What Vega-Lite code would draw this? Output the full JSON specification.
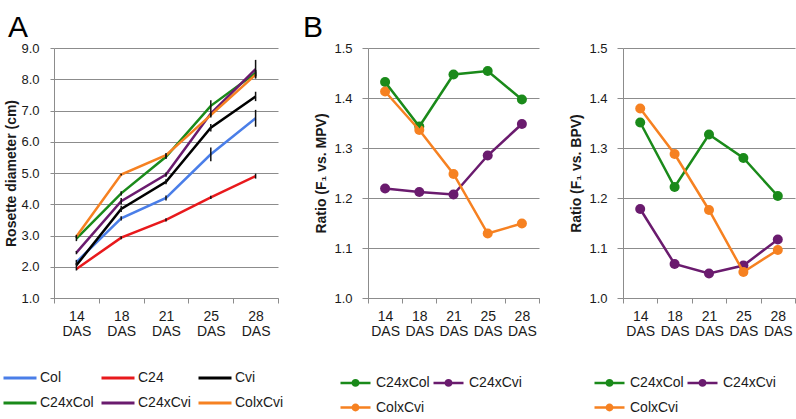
{
  "$schema": "https://vega.github.io/schema/vega-lite/v6.json",
  "padding": {"left": 2, "top": 13, "right": 0, "bottom": 0},
  "spacing": 18,
  "background": "white",
  "config": {
    "font": "Liberation Sans",
    "view": {"stroke": null},
    "axisX": {
      "title": null, "tickBand": "extent", "labelAngle": 0, "grid": false,
      "domainColor": "#8c8c8c", "tickColor": "#8c8c8c", "tickSize": 5,
      "labelFontSize": 14, "labelColor": "#1a1a1a", "labelPadding": 6, "labelLineHeight": 15
    },
    "axisY": {
      "grid": true, "gridColor": "#8c8c8c", "gridWidth": 1, "domainColor": "#8c8c8c",
      "tickColor": "#8c8c8c", "labelFontSize": 13, "labelColor": "#1a1a1a", "labelOverlap": false,
      "titleFontSize": 14, "titleFontWeight": "bold", "titleColor": "#1a1a1a"
    },
    "legend": {
      "labelFontSize": 14, "labelColor": "#1a1a1a", "title": null, "orient": "none",
      "direction": "horizontal"
    },
    "title": {"fontSize": 30, "fontWeight": "normal", "anchor": "start", "frame": "bounds", "offset": -1, "color": "black"}
  },
  "hconcat": [
    {
      "width": 224, "height": 250,
      "title": {"text": "A", "dx": 6},
      "data": {"values": [
        {"day": "14 DAS", "line": "Col", "v": 2.15, "lo": 2.08, "hi": 2.22},
        {"day": "18 DAS", "line": "Col", "v": 3.55, "lo": 3.48, "hi": 3.62},
        {"day": "21 DAS", "line": "Col", "v": 4.2, "lo": 4.12, "hi": 4.28},
        {"day": "25 DAS", "line": "Col", "v": 5.6, "lo": 5.38, "hi": 5.82},
        {"day": "28 DAS", "line": "Col", "v": 6.75, "lo": 6.48, "hi": 7.02},
        {"day": "14 DAS", "line": "C24", "v": 1.93, "lo": 1.88, "hi": 1.98},
        {"day": "18 DAS", "line": "C24", "v": 2.93, "lo": 2.88, "hi": 2.98},
        {"day": "21 DAS", "line": "C24", "v": 3.5, "lo": 3.45, "hi": 3.55},
        {"day": "25 DAS", "line": "C24", "v": 4.22, "lo": 4.17, "hi": 4.27},
        {"day": "28 DAS", "line": "C24", "v": 4.9, "lo": 4.82, "hi": 4.98},
        {"day": "14 DAS", "line": "Cvi", "v": 2.05, "lo": 1.98, "hi": 2.12},
        {"day": "18 DAS", "line": "Cvi", "v": 3.85, "lo": 3.75, "hi": 3.95},
        {"day": "21 DAS", "line": "Cvi", "v": 4.72, "lo": 4.64, "hi": 4.8},
        {"day": "25 DAS", "line": "Cvi", "v": 6.45, "lo": 6.33, "hi": 6.57},
        {"day": "28 DAS", "line": "Cvi", "v": 7.45, "lo": 7.3, "hi": 7.6},
        {"day": "14 DAS", "line": "C24xCol", "v": 2.9, "lo": 2.82, "hi": 2.98},
        {"day": "18 DAS", "line": "C24xCol", "v": 4.35, "lo": 4.28, "hi": 4.42},
        {"day": "21 DAS", "line": "C24xCol", "v": 5.52, "lo": 5.45, "hi": 5.59},
        {"day": "25 DAS", "line": "C24xCol", "v": 7.15, "lo": 6.97, "hi": 7.33},
        {"day": "28 DAS", "line": "C24xCol", "v": 8.2, "lo": 8.1, "hi": 8.3},
        {"day": "14 DAS", "line": "C24xCvi", "v": 2.45, "lo": 2.4, "hi": 2.5},
        {"day": "18 DAS", "line": "C24xCvi", "v": 4.1, "lo": 4.0, "hi": 4.2},
        {"day": "21 DAS", "line": "C24xCvi", "v": 4.95, "lo": 4.88, "hi": 5.02},
        {"day": "25 DAS", "line": "C24xCvi", "v": 6.9, "lo": 6.82, "hi": 6.98},
        {"day": "28 DAS", "line": "C24xCvi", "v": 8.32, "lo": 8.02, "hi": 8.62},
        {"day": "14 DAS", "line": "ColxCvi", "v": 2.97, "lo": 2.92, "hi": 3.02},
        {"day": "18 DAS", "line": "ColxCvi", "v": 4.95, "lo": 4.92, "hi": 4.98},
        {"day": "21 DAS", "line": "ColxCvi", "v": 5.57, "lo": 5.5, "hi": 5.64},
        {"day": "25 DAS", "line": "ColxCvi", "v": 6.85, "lo": 6.78, "hi": 6.92},
        {"day": "28 DAS", "line": "ColxCvi", "v": 8.15, "lo": 8.05, "hi": 8.25}
      ]},
      "encoding": {
        "x": {"field": "day", "type": "ordinal", "sort": ["14 DAS", "18 DAS", "21 DAS", "25 DAS", "28 DAS"],
              "scale": {"type": "band", "paddingInner": 0, "paddingOuter": 0},
              "axis": {"labelExpr": "isValid(datum.value) ? split(datum.value, ' ') : ''"}}
      },
      "layer": [
        {
          "mark": {"type": "line", "strokeWidth": 2.5},
          "encoding": {
            "y": {"field": "v", "type": "quantitative", "scale": {"domain": [1, 9], "nice": false, "zero": false},
                  "axis": {"title": "Rosette diameter (cm)", "values": [1, 2, 3, 4, 5, 6, 7, 8, 9], "format": ".1f",
                           "tickSize": 4, "labelPadding": 11, "titlePadding": 2, "labelOverlap": false}},
            "color": {"field": "line", "type": "nominal",
                      "scale": {"domain": ["Col", "C24", "Cvi", "C24xCol", "C24xCvi", "ColxCvi"],
                                "range": ["#4a7ee8", "#e8191c", "#000000", "#1a8a1a", "#6a1b6e", "#f68121"]},
                      "legend": {"columns": 3, "symbolType": "stroke", "symbolSize": 1089, "symbolStrokeWidth": 3,
                                 "labelOffset": 2, "columnPadding": 1, "rowPadding": -8,
                                 "legendX": -52, "legendY": 312}}
          }
        },
        {
          "mark": {"type": "rule", "color": "#111111", "strokeWidth": 1.5},
          "encoding": {
            "y": {"field": "lo", "type": "quantitative",
                  "axis": {"title": "Rosette diameter (cm)", "values": [1, 2, 3, 4, 5, 6, 7, 8, 9], "format": ".1f",
                           "tickSize": 4, "labelPadding": 11, "titlePadding": 2, "labelOverlap": false}},
            "y2": {"field": "hi"}
          }
        }
      ]
    },
    {
      "title": {"text": "B", "dx": -12},
      "spacing": 29,
      "hconcat": [
        {
          "width": 171, "height": 250,
          "data": {"values": [
            {"day": "14 DAS", "line": "C24xCol", "r": 1.432},
            {"day": "18 DAS", "line": "C24xCol", "r": 1.343},
            {"day": "21 DAS", "line": "C24xCol", "r": 1.447},
            {"day": "25 DAS", "line": "C24xCol", "r": 1.454},
            {"day": "28 DAS", "line": "C24xCol", "r": 1.397},
            {"day": "14 DAS", "line": "C24xCvi", "r": 1.219},
            {"day": "18 DAS", "line": "C24xCvi", "r": 1.212},
            {"day": "21 DAS", "line": "C24xCvi", "r": 1.207},
            {"day": "25 DAS", "line": "C24xCvi", "r": 1.285},
            {"day": "28 DAS", "line": "C24xCvi", "r": 1.348},
            {"day": "14 DAS", "line": "ColxCvi", "r": 1.413},
            {"day": "18 DAS", "line": "ColxCvi", "r": 1.336},
            {"day": "21 DAS", "line": "ColxCvi", "r": 1.248},
            {"day": "25 DAS", "line": "ColxCvi", "r": 1.129},
            {"day": "28 DAS", "line": "ColxCvi", "r": 1.149}
          ]},
          "encoding": {
            "x": {"field": "day", "type": "ordinal", "sort": ["14 DAS", "18 DAS", "21 DAS", "25 DAS", "28 DAS"],
                  "scale": {"type": "band", "paddingInner": 0, "paddingOuter": 0},
                  "axis": {"labelExpr": "isValid(datum.value) ? split(datum.value, ' ') : ''"}},
            "y": {"field": "r", "type": "quantitative", "scale": {"domain": [1, 1.5], "nice": false, "zero": false},
                  "axis": {"title": "Ratio (F₁ vs. MPV)", "values": [1, 1.1, 1.2, 1.3, 1.4, 1.5], "format": ".1f",
                           "tickSize": 6, "labelPadding": 10, "titlePadding": 5}},
            "color": {"field": "line", "type": "nominal",
                      "scale": {"domain": ["C24xCol", "C24xCvi", "ColxCvi"], "range": ["#1a8a1a", "#6a1b6e", "#f68121"]},
                      "legend": {"columns": 2, "symbolType": "M-1,0H1M-0.18,0A0.18,0.18,0,1,0,0.18,0A0.18,0.18,0,1,0,-0.18,0",
                                 "symbolSize": 900, "symbolStrokeWidth": 2.5, "labelOffset": 4, "columnPadding": -2,
                                 "rowPadding": -7, "legendX": -29, "legendY": 318}}
          },
          "layer": [
            {"mark": {"type": "point", "shape": "circle", "filled": true, "size": 100, "opacity": 1}},
            {"mark": {"type": "line", "strokeWidth": 2.5}}
          ]
        },
        {
          "width": 172, "height": 250,
          "data": {"values": [
            {"day": "14 DAS", "line": "C24xCol", "r": 1.351},
            {"day": "18 DAS", "line": "C24xCol", "r": 1.222},
            {"day": "21 DAS", "line": "C24xCol", "r": 1.327},
            {"day": "25 DAS", "line": "C24xCol", "r": 1.28},
            {"day": "28 DAS", "line": "C24xCol", "r": 1.204},
            {"day": "14 DAS", "line": "C24xCvi", "r": 1.178},
            {"day": "18 DAS", "line": "C24xCvi", "r": 1.068},
            {"day": "21 DAS", "line": "C24xCvi", "r": 1.049},
            {"day": "25 DAS", "line": "C24xCvi", "r": 1.065},
            {"day": "28 DAS", "line": "C24xCvi", "r": 1.117},
            {"day": "14 DAS", "line": "ColxCvi", "r": 1.379},
            {"day": "18 DAS", "line": "ColxCvi", "r": 1.288},
            {"day": "21 DAS", "line": "ColxCvi", "r": 1.176},
            {"day": "25 DAS", "line": "ColxCvi", "r": 1.052},
            {"day": "28 DAS", "line": "ColxCvi", "r": 1.096}
          ]},
          "encoding": {
            "x": {"field": "day", "type": "ordinal", "sort": ["14 DAS", "18 DAS", "21 DAS", "25 DAS", "28 DAS"],
                  "scale": {"type": "band", "paddingInner": 0, "paddingOuter": 0},
                  "axis": {"labelExpr": "isValid(datum.value) ? split(datum.value, ' ') : ''"}},
            "y": {"field": "r", "type": "quantitative", "scale": {"domain": [1, 1.5], "nice": false, "zero": false},
                  "axis": {"title": "Ratio (F₁ vs. BPV)", "values": [1, 1.1, 1.2, 1.3, 1.4, 1.5], "format": ".1f",
                           "tickSize": 6, "labelPadding": 10, "titlePadding": 5}},
            "color": {"field": "line", "type": "nominal",
                      "scale": {"domain": ["C24xCol", "C24xCvi", "ColxCvi"], "range": ["#1a8a1a", "#6a1b6e", "#f68121"]},
                      "legend": {"columns": 2, "symbolType": "M-1,0H1M-0.18,0A0.18,0.18,0,1,0,0.18,0A0.18,0.18,0,1,0,-0.18,0",
                                 "symbolSize": 900, "symbolStrokeWidth": 2.5, "labelOffset": 4, "columnPadding": -2,
                                 "rowPadding": -7, "legendX": -30, "legendY": 318}}
          },
          "layer": [
            {"mark": {"type": "point", "shape": "circle", "filled": true, "size": 100, "opacity": 1}},
            {"mark": {"type": "line", "strokeWidth": 2.5}}
          ]
        }
      ],
      "resolve": {"scale": {"color": "independent", "x": "independent", "y": "independent"}, "legend": {"color": "independent"}}
    }
  ],
  "resolve": {"scale": {"color": "independent", "x": "independent", "y": "independent"}, "legend": {"color": "independent"}}
}
